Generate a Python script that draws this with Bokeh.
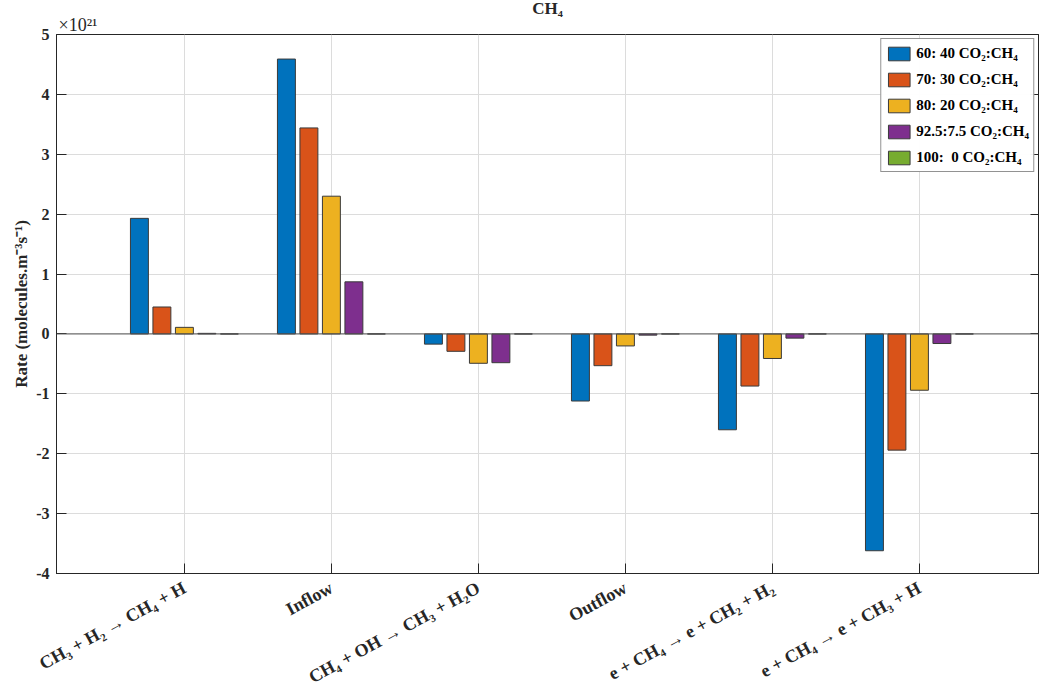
from math import pi
from bokeh.plotting import figure
from bokeh.models import (ColumnDataSource, FixedTicker, LinearAxis, Span, Title,
                          Legend, LegendItem, Range1d)
from bokeh.embed import file_html
from bokeh.resources import INLINE

# ---------------- data ----------------
categories = ["CH₃ + H₂ → CH₄ + H", "Inflow", "CH₄ + OH → CH₃ + H₂O", "Outflow",
              "e + CH₄ → e + CH₂ + H₂", "e + CH₄ → e + CH₃ + H"]
series_names = ["60: 40 CO₂:CH₄", "70: 30 CO₂:CH₄", "80: 20 CO₂:CH₄",
                "92.5:7.5 CO₂:CH₄", "100:  0 CO₂:CH₄"]
# rates in units of 10^21 molecules m^-3 s^-1
ratio_60_40 = [1.93, 4.59, -0.17, -1.12, -1.60, -3.62]
ratio_70_30 = [0.45, 3.44, -0.29, -0.53, -0.87, -1.94]
ratio_80_20 = [0.11, 2.30, -0.49, -0.20, -0.41, -0.94]
ratio_92_5_7_5 = [0.01, 0.87, -0.48, -0.02, -0.07, -0.16]
ratio_100_0 = [0.0, 0.0, 0.0, 0.0, 0.0, 0.0]
series_values = [ratio_60_40, ratio_70_30, ratio_80_20, ratio_92_5_7_5, ratio_100_0]
y_ticks = [5, 4, 3, 2, 1, 0, -1, -2, -3, -4]

colors = ["#0072BD", "#D95319", "#EDB120", "#7E2F8E", "#77AC30"]
FONT = "Liberation Serif"
DARK = "#262626"

p = figure(width=1041, height=698, output_backend="svg", toolbar_location=None,
           x_range=Range1d(0.13, 6.81), y_range=Range1d(-4, 5),
           min_border_left=56, min_border_right=3, min_border_top=10,
           min_border_bottom=125)
p.background_fill_color = "white"
p.outline_line_color = DARK
p.outline_line_width = 1

# grid
p.xgrid.ticker = FixedTicker(ticks=list(range(1, len(categories) + 1)))
p.ygrid.ticker = FixedTicker(ticks=y_ticks)
for g in (p.xgrid, p.ygrid):
    g.grid_line_color = "#dcdcdc"
    g.grid_line_width = 1

# bars
step = 0.153
bw = 0.122
xs = list(range(1, len(categories) + 1))
items = []
for i, (name, vals, c) in enumerate(zip(series_names, series_values, colors)):
    src = ColumnDataSource(dict(x=[x + (i - 2) * step for x in xs], top=vals,
                                bottom=[0.0] * len(vals)))
    r = p.vbar(x="x", top="top", bottom="bottom", width=bw, source=src,
               fill_color=c, line_color="#3a3a3a", line_width=1)
    items.append(LegendItem(label=name, renderers=[r]))

p.add_layout(Span(location=0, dimension="width", line_color="#555555", line_width=1))

# axes
xa = p.xaxis[0]
xa.ticker = FixedTicker(ticks=xs)
xa.major_label_overrides = {x: c for x, c in zip(xs, categories)}
xa.major_label_orientation = pi / 6.3
ya = p.yaxis[0]
ya.ticker = FixedTicker(ticks=y_ticks)
ya.major_label_overrides = {t: str(t) for t in y_ticks}
ya.axis_label = "Rate (molecules.m⁻³s⁻¹)"
for ax in (xa, ya):
    ax.axis_line_color = DARK
    ax.major_tick_line_color = DARK
    ax.major_tick_in = 10
    ax.major_tick_out = 0
    ax.minor_tick_line_color = None
    ax.major_label_text_font = FONT
    ax.major_label_text_font_style = "bold"
    ax.major_label_text_font_size = "16px"
    ax.major_label_text_color = DARK
    ax.axis_label_text_font = FONT
    ax.axis_label_text_font_style = "bold"
    ax.axis_label_text_font_size = "17px"
    ax.axis_label_text_color = DARK
xa.major_label_text_font_size = "18px"
xa.major_label_standoff = 13
ya.major_label_standoff = 7
ya.axis_label_standoff = 2

# mirrored ticks on the right
right_ax = LinearAxis(ticker=FixedTicker(ticks=y_ticks), major_tick_in=8, major_tick_out=0,
                      major_label_overrides={t: "" for t in y_ticks},
                      major_label_standoff=0, major_label_text_font_size="1px",
                      minor_tick_line_color=None, axis_line_color=DARK,
                      major_tick_line_color=DARK)
p.add_layout(right_ax, "right")

# exponent label (closest to the frame) and title
p.add_layout(Title(text="×10²¹", align="left", text_font=FONT, text_font_size="18px",
                   text_font_style="normal", text_color=DARK, standoff=-1, offset=2),
             "above")
p.title.text = "CH₄"
p.title.align = "center"
p.title.text_font = FONT
p.title.text_font_style = "bold"
p.title.text_font_size = "17px"
p.title.text_color = DARK
p.title.standoff = -8

legend = Legend(items=items, location="top_right")
legend.label_text_font = FONT
legend.label_text_font_style = "bold"
legend.label_text_font_size = "15px"
legend.label_text_color = "black"
legend.glyph_width = 27
legend.glyph_height = 17
legend.label_height = 20
legend.spacing = 6
legend.padding = 4
legend.margin = 4
legend.border_line_color = DARK
legend.border_line_width = 1
legend.background_fill_color = "white"
legend.label_standoff = 4
p.add_layout(legend)

open("out.html", "w").write(file_html(p, INLINE))
